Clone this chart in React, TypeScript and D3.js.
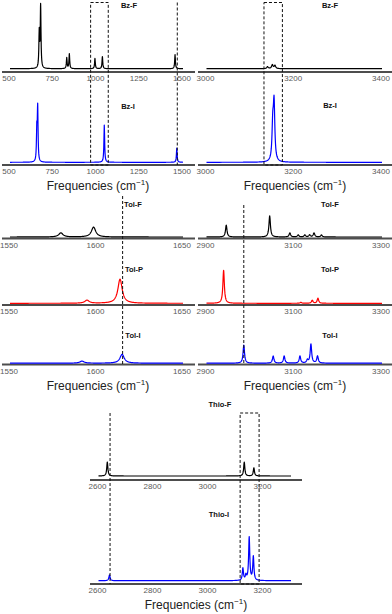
import React from 'react';
import * as d3 from 'd3';

type Peak = [number, number]; // [wavenumber, relative intensity 0-100]

// tick labels
const bzLowTicks = [500, 750, 1000, 1250, 1500];
const bzHighTicks = [3000, 3200, 3400];
const tolLowTicks = [1550, 1600, 1650];
const tolHighTicks = [2900, 3100, 3300];
const thioTicks = [2600, 2800, 3000, 3200];

// x ranges of the traces
const bzLowDomain = [500, 1500];
const bzHighDomain = [3000, 3400];
const tolLowDomain = [1550, 1650];
const tolHighDomain = [2900, 3300];
const thioDomain = [2600, 3300];

// peaks
const bzF_low: Peak[] = [[669, 56], [677, 97], [828, 17], [843, 23], [991, 16], [1034, 19], [1454, 22]];
const bzI_low: Peak[] = [[655, 48], [660, 83], [1045, 58], [1464, 22]];
const bzF_high: Peak[] = [[3139, 3], [3150, 6], [3156, 5]];
const bzI_high: Peak[] = [[3151, 53], [3154, 88]];

const tolF_low: Peak[] = [[1579.4, 12], [1598.3, 29]];
const tolP_low: Peak[] = [[1594.5, 9], [1613.6, 71]];
const tolI_low: Peak[] = [[1591.6, 6], [1614.8, 26]];
const tolF_high: Peak[] = [[2945, 35], [3044, 62], [3090, 12], [3109, 6], [3124, 6], [3135, 6], [3145, 12], [3162, 6]];
const tolP_high: Peak[] = [[2939, 97], [3115, 3], [3141, 9], [3154, 15]];
const tolI_high: Peak[] = [[2985, 53], [3052, 21], [3077, 21], [3113, 21], [3130, 9], [3138, 56], [3153, 21]];

const thioF: Peak[] = [[2632, 31], [3130, 31], [3165, 18]];
const thioI: Peak[] = [[2640, 13], [3125, 27], [3136, 11], [3148, 96], [3163, 53]];

// dashed markers
const bzLowBox = [966, 1068];
const bzLowLine = 1467;
const bzHighBox = [3131, 3173];
const tolLowLine = 1615.1;
const tolHighLine = 2985;
const thioLine = 2642;
const thioBox = [3115, 3184];

type Col = { x0: number; x1: number; r0: number; r1: number };
const LEFT: Col = { x0: 2, x1: 195, r0: 10, r1: 183 };
const RIGHT: Col = { x0: 198, x1: 392, r0: 206.5, r1: 382 };
const MID: Col = { x0: 90, x1: 302, r0: 98.5, r1: 291 };

const FONT = '"Liberation Sans", Arial, sans-serif';

function makeX(col: Col, domain: number[]) {
  return d3.scaleLinear().domain(domain).range([col.r0, col.r1]);
}

function Spectrum({ col, domain, ticks, axisY, base, scaleH, peaks, gamma, color, label, labelX, labelY }: any) {
  const x = makeX(col, domain);
  const y = d3.scaleLinear().domain([0, 100]).range([base, base - scaleH]);
  const step = (domain[1] - domain[0]) / ((col.r1 - col.r0) * 4);
  const xs = d3
    .range(domain[0], domain[1] + step / 2, step)
    .concat(peaks.map((p: Peak) => p[0]))
    .sort((a: number, b: number) => a - b);
  const pts: [number, number][] = xs.map((v: number) => [
    v,
    d3.sum(peaks, ([c, h]: Peak) => (h * gamma * gamma) / ((v - c) * (v - c) + gamma * gamma)),
  ]);
  const line = d3
    .line<[number, number]>()
    .x((d) => x(d[0]))
    .y((d) => y(d[1]));
  return (
    <g>
      <line x1={col.x0} x2={col.x1} y1={axisY} y2={axisY} stroke="#4d4d4d" strokeWidth={2} />
      <path d={line(pts) || ''} fill="none" stroke={color} strokeWidth={1.2} strokeLinejoin="round" />
      {ticks.map((t: number) => (
        <text key={t} x={x(t) - 1} y={axisY + 9} fontSize={8} fill="#5a5a5a" textAnchor="middle" fontFamily={FONT}>
          {t}
        </text>
      ))}
      <text x={labelX} y={labelY} fontSize={7.5} fontWeight="bold" textAnchor="middle" fontFamily={FONT} fill="#111">
        {label}
      </text>
    </g>
  );
}

function AxisTitle({ cx, y }: { cx: number; y: number }) {
  return (
    <text x={cx} y={y} fontSize={12} textAnchor="middle" fontFamily={FONT} fill="#222">
      Frequencies (cm
      <tspan fontSize={8} dy={-5}>−1</tspan>
      <tspan dy={5}>)</tspan>
    </text>
  );
}

const dash = { stroke: '#111', strokeWidth: 1, strokeDasharray: '3,2', fill: 'none' };

export default function App() {
  const xBzL = makeX(LEFT, bzLowDomain);
  const xBzR = makeX(RIGHT, bzHighDomain);
  const xTolL = makeX(LEFT, tolLowDomain);
  const xTolR = makeX(RIGHT, tolHighDomain);
  const xThio = makeX(MID, thioDomain);

  return (
    <svg width={392} height={614} style={{ position: 'absolute', left: 0, top: 0, background: '#fff' }}>
      {/* Benzene */}
      <Spectrum col={LEFT} domain={bzLowDomain} ticks={bzLowTicks} axisY={72} base={68.7} scaleH={64}
        peaks={bzF_low} gamma={2.5} color="#000" label="Bz-F" labelX={129} labelY={8} />
      <Spectrum col={LEFT} domain={bzLowDomain} ticks={bzLowTicks} axisY={165} base={162.3} scaleH={64}
        peaks={bzI_low} gamma={2.5} color="#0000ff" label="Bz-I" labelX={128} labelY={109} />
      <Spectrum col={RIGHT} domain={bzHighDomain} ticks={bzHighTicks} axisY={72} base={68.7} scaleH={64}
        peaks={bzF_high} gamma={2} color="#000" label="Bz-F" labelX={330} labelY={8} />
      <Spectrum col={RIGHT} domain={bzHighDomain} ticks={bzHighTicks} axisY={165} base={162.3} scaleH={64}
        peaks={bzI_high} gamma={2} color="#0000ff" label="Bz-I" labelX={330} labelY={108} />
      <rect x={xBzL(bzLowBox[0])} y={2.5} width={xBzL(bzLowBox[1]) - xBzL(bzLowBox[0])} height={162.5} {...dash} />
      <line x1={xBzL(bzLowLine)} x2={xBzL(bzLowLine)} y1={2.5} y2={165} {...dash} />
      <rect x={xBzR(bzHighBox[0])} y={2.5} width={xBzR(bzHighBox[1]) - xBzR(bzHighBox[0])} height={162.5} {...dash} />
      <AxisTitle cx={98} y={190} />
      <AxisTitle cx={295} y={190} />

      {/* Toluene */}
      <Spectrum col={LEFT} domain={tolLowDomain} ticks={tolLowTicks} axisY={238.5} base={237} scaleH={34}
        peaks={tolF_low} gamma={1.5} color="#000" label="Tol-F" labelX={133} labelY={207} />
      <Spectrum col={LEFT} domain={tolLowDomain} ticks={tolLowTicks} axisY={305} base={303.3} scaleH={34}
        peaks={tolP_low} gamma={1.5} color="#ff0000" label="Tol-P" labelX={134} labelY={272} />
      <Spectrum col={LEFT} domain={tolLowDomain} ticks={tolLowTicks} axisY={364.5} base={363.2} scaleH={34}
        peaks={tolI_low} gamma={1.5} color="#0000ff" label="Tol-I" labelX={133} labelY={338} />
      <Spectrum col={RIGHT} domain={tolHighDomain} ticks={tolHighTicks} axisY={238.5} base={237} scaleH={34}
        peaks={tolF_high} gamma={2} color="#000" label="Tol-F" labelX={330} labelY={207} />
      <Spectrum col={RIGHT} domain={tolHighDomain} ticks={tolHighTicks} axisY={305} base={303.3} scaleH={34}
        peaks={tolP_high} gamma={2} color="#ff0000" label="Tol-P" labelX={330} labelY={272} />
      <Spectrum col={RIGHT} domain={tolHighDomain} ticks={tolHighTicks} axisY={364.5} base={363.2} scaleH={34}
        peaks={tolI_high} gamma={2} color="#0000ff" label="Tol-I" labelX={330} labelY={338} />
      <line x1={xTolL(tolLowLine)} x2={xTolL(tolLowLine)} y1={196} y2={364} {...dash} />
      <line x1={xTolR(tolHighLine)} x2={xTolR(tolHighLine)} y1={205} y2={364} {...dash} />
      <AxisTitle cx={98} y={390} />
      <AxisTitle cx={295} y={390} />

      {/* Thiophene */}
      <Spectrum col={MID} domain={thioDomain} ticks={thioTicks} axisY={480} base={476} scaleH={45}
        peaks={thioF} gamma={2.5} color="#000" label="Thio-F" labelX={220} labelY={407} />
      <Spectrum col={MID} domain={thioDomain} ticks={thioTicks} axisY={584} base={580.7} scaleH={45}
        peaks={thioI} gamma={2.5} color="#0000ff" label="Thio-I" labelX={219} labelY={517} />
      <line x1={xThio(thioLine)} x2={xThio(thioLine)} y1={413} y2={584} {...dash} />
      <rect x={xThio(thioBox[0])} y={413} width={xThio(thioBox[1]) - xThio(thioBox[0])} height={171} {...dash} />
      <AxisTitle cx={196} y={609} />
    </svg>
  );
}
